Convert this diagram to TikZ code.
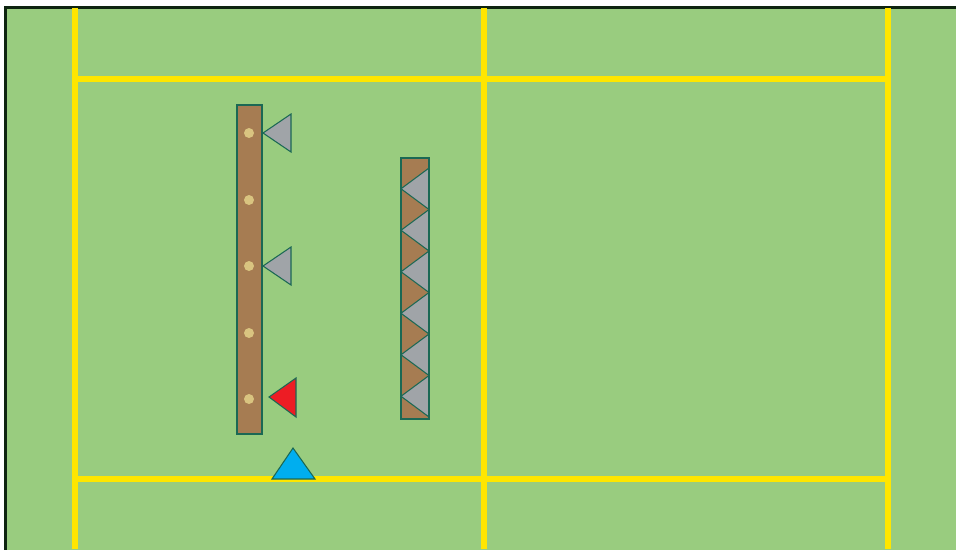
\documentclass[tikz,border=0pt]{standalone}
\usetikzlibrary{positioning}
\definecolor{pitch}{RGB}{153,204,127}
\definecolor{frameline}{RGB}{14,36,16}
\definecolor{lineyel}{RGB}{255,230,0}
\definecolor{wood}{RGB}{166,124,82}
\definecolor{edge}{RGB}{27,104,84}
\definecolor{peg}{RGB}{217,196,128}
\definecolor{conegrey}{RGB}{160,164,168}
\definecolor{conered}{RGB}{237,28,36}
\definecolor{coneblue}{RGB}{0,174,239}
\tikzset{
  field/.style={fill=pitch, draw=frameline, line width=1.7pt},
  pline/.style={draw=lineyel, line width=3.4pt},
  board/.style={fill=wood, draw=edge, line width=1.1pt},
  peghole/.style={fill=peg},
  cone/.style={fill=conegrey, draw=edge, line width=0.6pt, line join=miter},
}
\begin{document}
\begin{tikzpicture}[x=0.02cm, y=-0.02cm]
  \useasboundingbox (0,0) rectangle (956,549);
  \fill[white] (0,0) rectangle (956,549);
  \draw[field] (5.5,7.5) rectangle (975,565);
  % pitch lines
  \foreach \x in {75,484,888}
    \draw[pline] (\x,8) -- (\x,549);
  \draw[pline] (75,79) -- (888,79);
  \draw[pline] (75,479) -- (888,479);
  % long board with pegs
  \draw[board] (237,105) rectangle (262,434);
  \foreach \y in {133,200,266,333,399}
    \fill[peghole] (249,\y) circle (5);
  \draw[cone] (263,133) -- (291,114) -- (291,152) -- cycle;
  \draw[cone] (263,266) -- (291,247) -- (291,285) -- cycle;
  \draw[cone, fill=conered] (269,397) -- (296,378) -- (296,417) -- cycle;
  \draw[cone, fill=coneblue] (293,448) -- (315,479) -- (272,479) -- cycle;
  % short board, stacked cones
  \fill[wood] (401,158) rectangle (429,419);
  \foreach \i in {0,...,5}
    \draw[cone] (401,{188.75+41.5*\i}) -- (429,{168+41.5*\i}) -- (429,{209.5+41.5*\i}) -- cycle;
  \draw[board, fill=none] (401,158) rectangle (429,419);
\end{tikzpicture}
\end{document}
